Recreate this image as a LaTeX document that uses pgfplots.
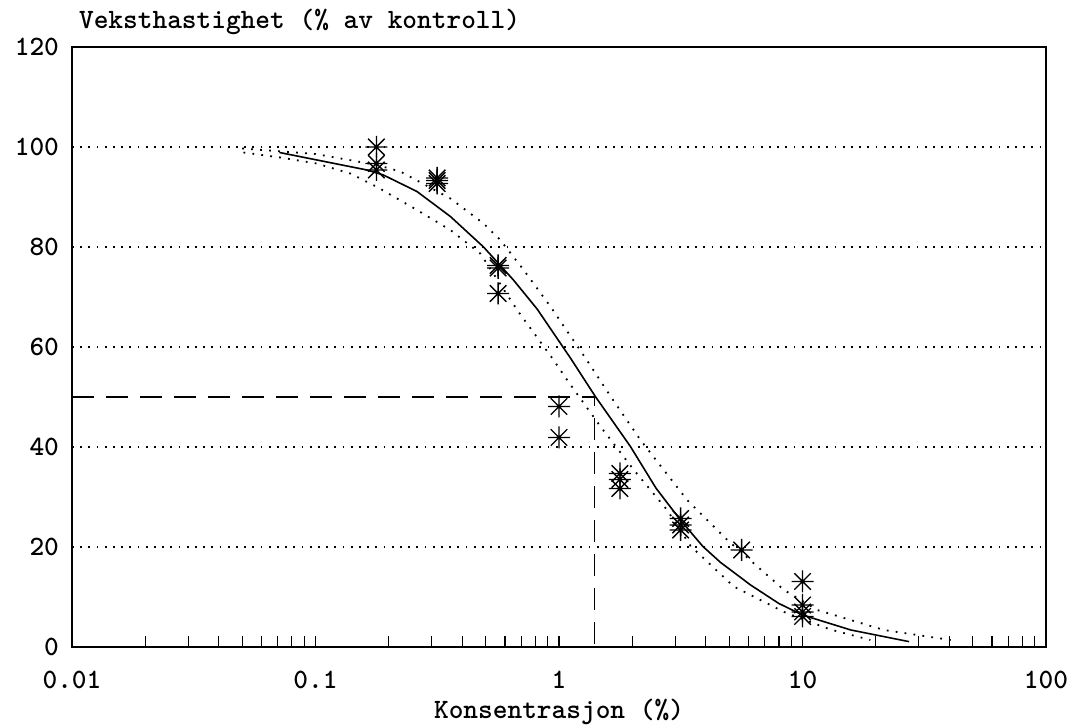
\documentclass[border=0pt]{standalone}
\usepackage{pgfplots}
\pgfplotsset{compat=1.18}
\pgfdeclareplotmark{ast8}{%
 \pgfpathmoveto{\pgfqpoint{-\pgfplotmarksize}{0pt}}\pgfpathlineto{\pgfqpoint{\pgfplotmarksize}{0pt}}%
 \pgfpathmoveto{\pgfqpoint{0pt}{-\pgfplotmarksize}}\pgfpathlineto{\pgfqpoint{0pt}{\pgfplotmarksize}}%
 \pgfpathmoveto{\pgfqpoint{-0.75\pgfplotmarksize}{-0.75\pgfplotmarksize}}\pgfpathlineto{\pgfqpoint{0.75\pgfplotmarksize}{0.75\pgfplotmarksize}}%
 \pgfpathmoveto{\pgfqpoint{-0.75\pgfplotmarksize}{0.75\pgfplotmarksize}}\pgfpathlineto{\pgfqpoint{0.75\pgfplotmarksize}{-0.75\pgfplotmarksize}}%
 \pgfusepathqstroke}
\newcommand{\lblfont}{\fontsize{14}{16}\selectfont\ttfamily\bfseries}
\begin{document}
\begin{tikzpicture}
\begin{axis}[name=ax, scale only axis, width=487pt, height=300pt,
  xmode=log, log basis x=10, xmin=0.01, xmax=100, ymin=0, ymax=120,
  xtick={0.01,0.1,1,10,100}, xticklabels={0.01,0.1,1,10,100},
  minor xtick={0.02,0.03,0.04,0.05,0.06,0.07,0.08,0.09,0.2,0.3,0.4,0.5,0.6,0.7,0.8,0.9,2,3,4,5,6,7,8,9,20,30,40,50,60,70,80,90},
  ytick={0,20,40,60,80,100,120}, yticklabels={0,20,40,60,80,100,120},
  tick align=inside, xtick pos=left, ytick pos=left,
  major tick length=5.5pt, minor tick length=5.5pt,
  xtick style={black, line width=0.6pt},
  ytick style={draw=none},
  ymajorgrids, grid style={black, line width=0.9pt, dash pattern=on 0.9pt off 3.2pt},
  axis line style={line width=0.8pt},
  ticklabel style={font=\lblfont},
  xticklabel style={yshift=-8.5pt},
  yticklabel style={xshift=-3pt},
  xlabel={Konsentrasjon (\%)},
  every axis x label/.style={at={(axis description cs:0.5,0)}, anchor=base, yshift=-36pt, font=\lblfont},
  ylabel={Veksthastighet (\% av kontroll)},
  every axis y label/.style={at={(axis description cs:0,1)}, anchor=base west, yshift=9pt, font=\lblfont},
  clip=false,
]
% dashed EC50 line
\addplot[black, line width=0.6pt, dash pattern=on 11pt off 6pt] coordinates {(0.01,50) (1.40,50) (1.40,0)};
% fitted curve
\addplot[black, line width=0.8pt] coordinates {
(0.0711,98.9) (0.1626,95.4) (0.19,94.4) (0.261,91.1) (0.358,86.1) (0.49,80.0) (0.65,73.4) (0.813,67.6)
(1.114,57.8) (1.41,50.1) (1.965,40.1) (2.5,31.8) (3.15,25.4) (3.9,20.1) (4.61,16.9) (6.12,12.4) (8,8.7)
(10,6.4) (15.8,3.4) (27.4,1.07)};
% upper confidence
\addplot[black, line width=0.9pt, dash pattern=on 0.9pt off 3.6pt] coordinates {
(0.05,99.7) (0.1,98.6) (0.179,96.4) (0.223,95.1) (0.358,89.7) (0.49,84.7) (0.574,81.4) (0.716,75.4)
(0.922,68.1) (1.30,57.4) (1.63,50.1) (2.16,41.4) (3.36,29.4) (4.91,21.4) (8.4,11.4) (11.5,7.4)
(21.6,3.4) (40.6,1.4)};
% lower confidence
\addplot[black, line width=0.9pt, dash pattern=on 0.9pt off 3.6pt] coordinates {
(0.0506,98.9) (0.0716,97.9) (0.101,96.7) (0.139,94.7) (0.179,92) (0.261,87.4) (0.358,83.4) (0.475,78.7)
(0.673,67.4) (0.95,57.4) (1.08,53.4) (1.48,44.1) (2.03,35.4) (2.78,27.4) (3.47,20.2) (5.22,12.1)
(8.4,7.0) (10,5.6) (13,3.5) (19,1.4)};
% observations
\addplot[only marks, mark=ast8, mark size=5.5pt, mark options={black, line width=0.7pt}] coordinates {
(0.178,100) (0.178,96.7) (0.178,95.4)
(0.316,93.8) (0.316,93.3) (0.316,92.7)
(0.562,76.3) (0.562,75.8) (0.562,70.7)
(1.0,48.1) (1.0,41.9)
(1.78,34.7) (1.78,33.5) (1.78,31.7)
(3.16,25.7) (3.16,24.4) (3.16,23.4)
(5.62,19.4)
(10,13.1) (10,8.4) (10,7.0) (10,6.1)};
\end{axis}
\pgfresetboundingbox
\path ([shift={(-36pt,-39.5pt)}]ax.south west) rectangle ([shift={(14pt,23.5pt)}]ax.north east);
\end{tikzpicture}
\end{document}
